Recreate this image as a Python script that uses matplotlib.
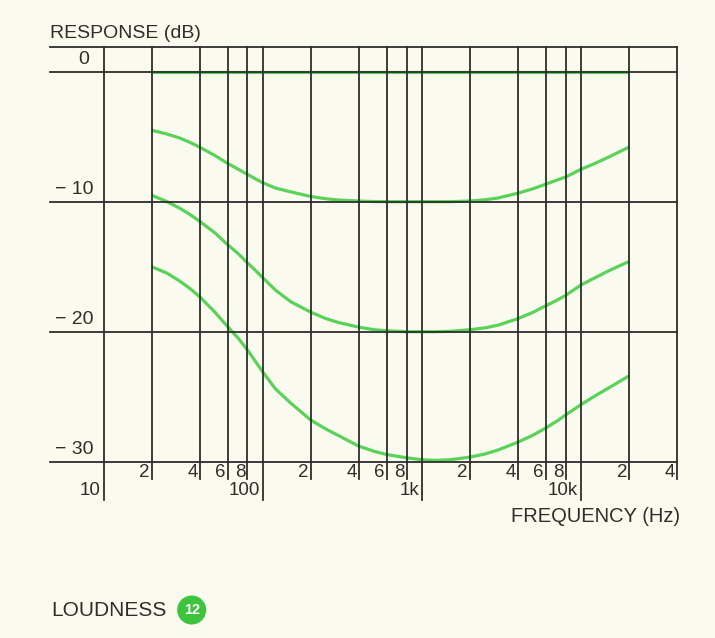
import matplotlib
matplotlib.use('Agg')
import matplotlib.pyplot as plt
from matplotlib.patches import Circle

plt.rcParams['font.family'] = ['Liberation Sans', 'DejaVu Sans']

# data (frequency in Hz, response in dB)
freqs = [20, 25, 30, 35, 40, 50, 60, 70, 80, 90, 100, 120, 150, 200, 250, 300, 400, 500,
         600, 800, 1000, 1200, 1500, 2000, 2500, 3000, 4000, 5000, 6000, 7000, 8000,
         10000, 12000, 15000, 20000]
curve_0 = [0] * len(freqs)
curve_10 = [-4.5, -4.8, -5.1, -5.45, -5.8, -6.45, -7.05, -7.5, -7.9, -8.25, -8.55, -8.95,
            -9.25, -9.6, -9.78, -9.87, -9.95, -9.99, -10.0, -10.0, -10.0, -10.0, -10.0,
            -9.95, -9.85, -9.72, -9.35, -9.0, -8.65, -8.35, -8.1, -7.5, -7.1, -6.55, -5.8]
curve_20 = [-9.5, -10.0, -10.5, -11.0, -11.5, -12.4, -13.3, -14.0, -14.7, -15.3, -15.85,
            -16.8, -17.7, -18.5, -19.0, -19.3, -19.65, -19.85, -19.93, -20.0, -20.0, -20.0,
            -19.97, -19.85, -19.7, -19.5, -19.0, -18.5, -18.0, -17.6, -17.2, -16.4, -15.9,
            -15.3, -14.6]
curve_30 = [-15.0, -15.5, -16.1, -16.7, -17.3, -18.5, -19.6, -20.5, -21.4, -22.3, -23.1,
            -24.4, -25.5, -26.8, -27.5, -28.0, -28.8, -29.2, -29.45, -29.7, -29.85, -29.9,
            -29.85, -29.65, -29.4, -29.1, -28.5, -27.95, -27.4, -26.9, -26.4, -25.6, -25.0,
            -24.3, -23.4]
curves = [curve_0, curve_10, curve_20, curve_30]

db_lines = [0, -10, -20, -30]
db_labels = ['0', '\u2212 10', '\u2212 20', '\u2212 30']

minor_freqs = [20, 40, 60, 80, 200, 400, 600, 800, 2000, 4000, 6000, 8000, 20000, 40000]
minor_labels = ['2', '4', '6', '8', '2', '4', '6', '8', '2', '4', '6', '8', '2', '4']
decade_freqs = [10, 100, 1000, 10000]
decade_labels = ['10', '100', '1k', '10k']

W, H = 715, 638
bg = '#fafbee'
ink = '#2e2e2e'
green = '#5ad25a'

fig = plt.figure(figsize=(W / 100, H / 100), dpi=100, facecolor=bg)
ax = fig.add_axes([50 / W, 1 - 461.7 / H, 627 / W, 415 / H])
ax.set_facecolor(bg)
ax.set_xscale('log')
ax.set_xlim(4.6, 40000)
ax.set_ylim(-30, 1.92)
ax.axis('off')

# horizontal grid lines + top border
for y in db_lines + [1.92]:
    ax.axhline(y, color=ink, lw=1.3, zorder=3, clip_on=False)

# vertical lines, minor ones poke a bit below, decades further
xt = ax.get_xaxis_transform()
for f in minor_freqs:
    ax.plot([f, f], [-17 / 415, 1], color=ink, lw=1.3, transform=xt, clip_on=False, zorder=3)
for f in decade_freqs:
    ax.plot([f, f], [-38 / 415, 1], color=ink, lw=1.3, transform=xt, clip_on=False, zorder=3)

# the loudness curves
for c in curves:
    ax.plot(freqs, c, color=green, lw=2.3, zorder=2, solid_capstyle='butt')

# tick labels
for f, lab in zip(minor_freqs, minor_labels):
    ax.annotate(lab, xy=(f, 0), xycoords=xt, xytext=(-2, -10.5), textcoords='offset pixels',
                ha='right', va='center', fontsize=13.5, color=ink)
for f, lab in zip(decade_freqs, decade_labels):
    ax.annotate(lab, xy=(f, 0), xycoords=xt, xytext=(-3, -29), textcoords='offset pixels',
                ha='right', va='center', fontsize=13.5, color=ink)

yt = ax.get_yaxis_transform()
for v, lab in zip(db_lines, db_labels):
    xr = (89 - 50) / 627 if v == 0 else (93 - 50) / 627
    ax.annotate(lab, xy=(xr, v), xycoords=yt, xytext=(0, 12), textcoords='offset pixels',
                ha='right', va='center', fontsize=14, color=ink)

fig.text(50 / W, 1 - 33 / H, 'RESPONSE (dB)', ha='left', va='center', fontsize=14, color=ink)
fig.text(680 / W, 1 - 516 / H, 'FREQUENCY (Hz)', ha='right', va='center', fontsize=14.5, color=ink)
fig.text(51.7 / W, 1 - 610 / H, 'LOUDNESS', ha='left', va='center', fontsize=15, color=ink)

badge = Circle((191.7 / 100, (H - 610) / 100), 0.145, transform=fig.dpi_scale_trans,
               facecolor='#3cc43c', edgecolor='none')
fig.add_artist(badge)
fig.text(191.7 / W, 1 - 610 / H, '12', ha='center', va='center', fontsize=10.5,
         color='white', fontweight='bold')

fig.savefig('out.png', dpi=100, facecolor=bg)
